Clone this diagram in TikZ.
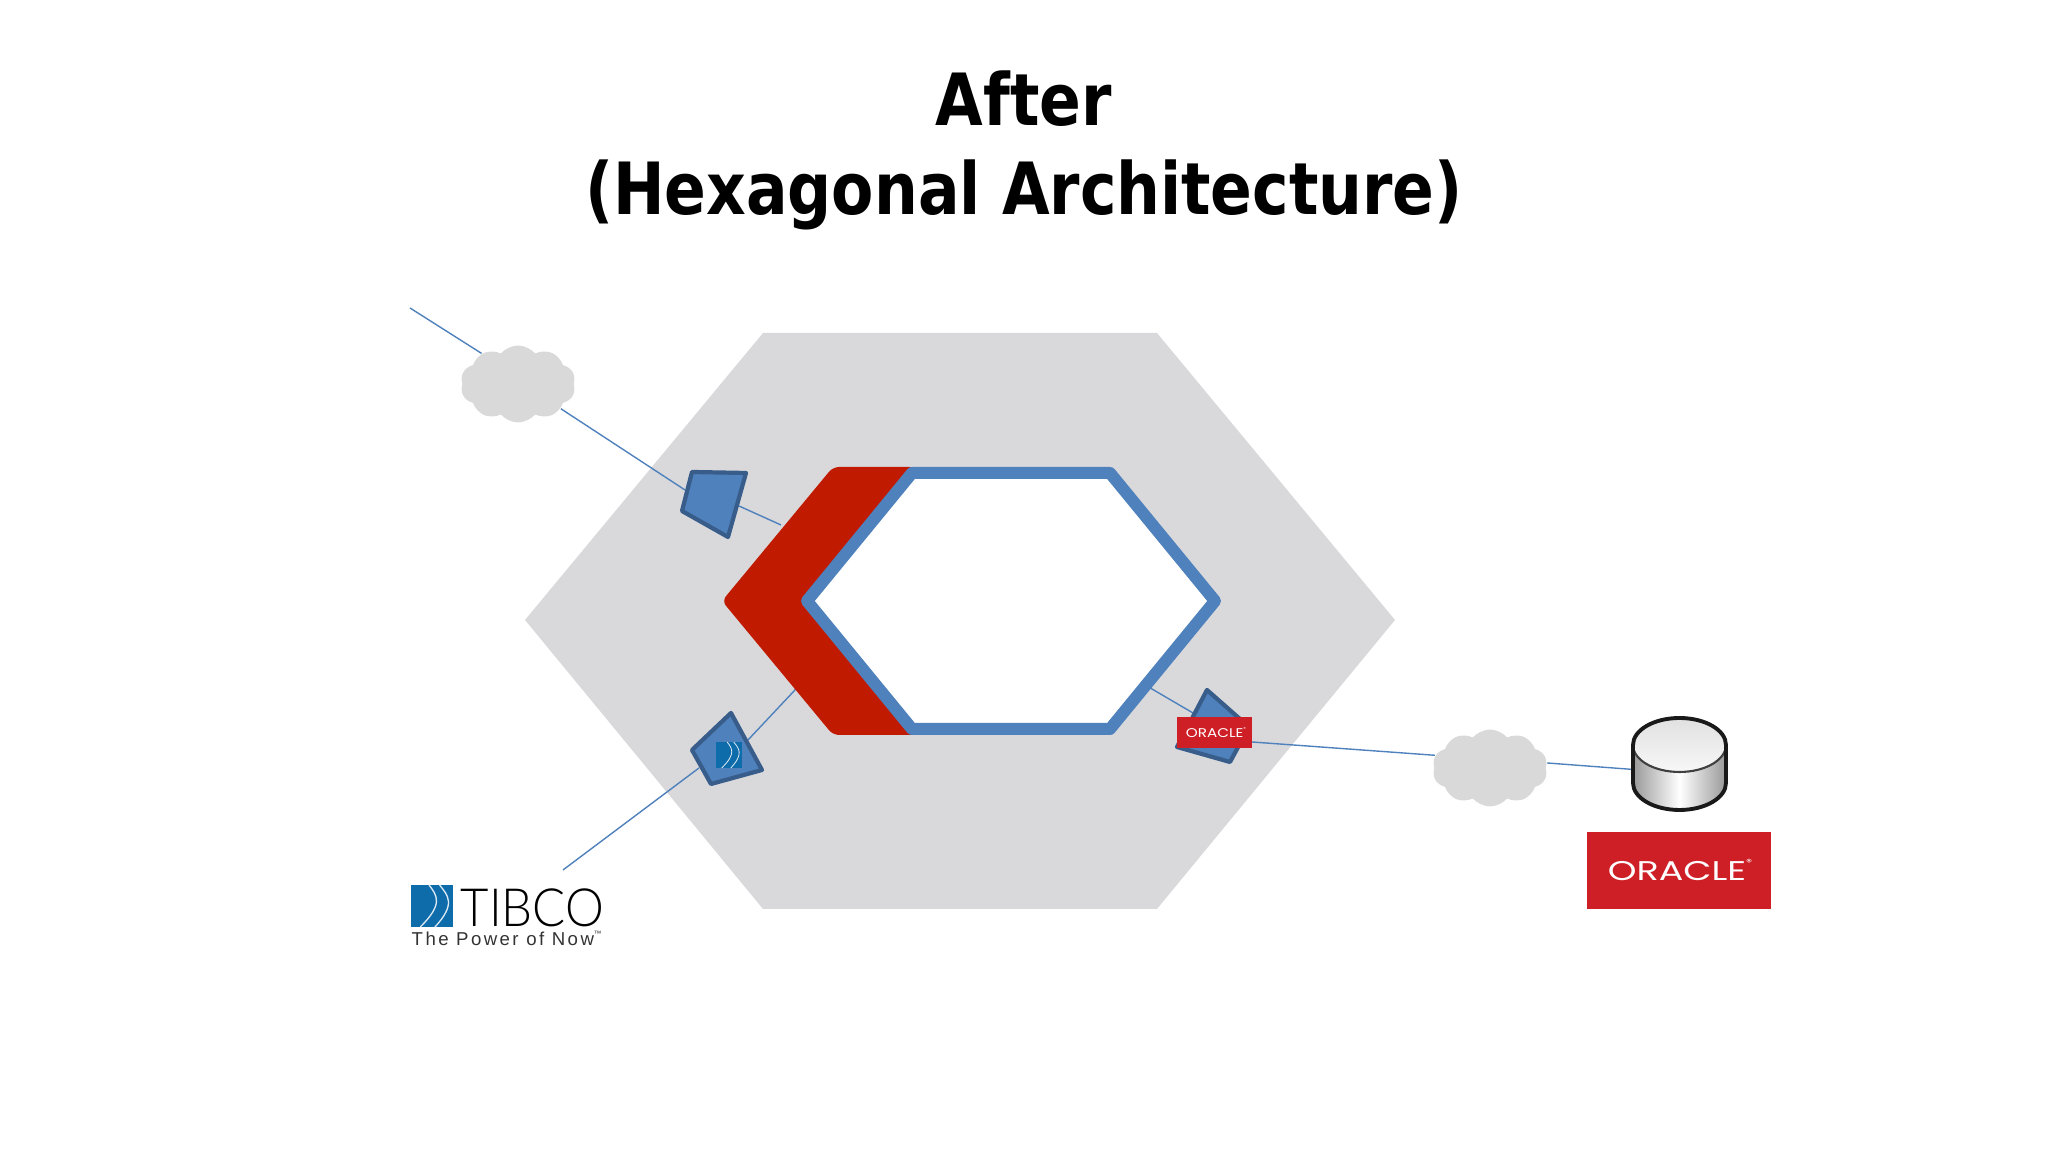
\documentclass[tikz,border=0pt]{standalone}
\usepackage{fontspec}
\usepackage{xcolor}
\usetikzlibrary{shapes.symbols}
\setmainfont{DejaVu Sans Condensed}
\newfontfamily\logofont{Poppins}
\newfontfamily\thinfont{Lato Light}
\newfontfamily\tagfont{Liberation Sans}
\definecolor{hexgray}{HTML}{D9D9DB}
\definecolor{portblue}{HTML}{4F81BD}
\definecolor{portedge}{HTML}{385D8A}
\definecolor{corered}{HTML}{C01B00}
\definecolor{oraclered}{HTML}{CE1F26}
\definecolor{tibcoblue}{HTML}{0F6CAB}
\tikzset{
	wire/.style={draw=portblue, line width=0.4pt},
	puff/.style={shape=cloud, cloud puffs=10, cloud puff arc=100, aspect=1.5, fill=black!15, inner sep=0pt, minimum width=1.15cm, minimum height=0.77cm},
	port/.style={draw=portedge, fill=portblue, line width=1.2pt, line join=round},
	oraclebox/.style={fill=oraclered, inner sep=0pt, text=white},
}
\newcommand{\tibcomark}[3]{
	\fill[tibcoblue] (#1,#2) rectangle ++(#3,#3);
	\draw[white!85!tibcoblue, line width=#3*0.9pt] (#1+0.43*#3,#2+#3) .. controls (#1+0.62*#3,#2+0.75*#3) and (#1+0.78*#3,#2+0.55*#3) .. (#1+0.22*#3,#2);
	\draw[white!85!tibcoblue, line width=#3*0.9pt] (#1+0.68*#3,#2+#3) .. controls (#1+0.88*#3,#2+0.75*#3) and (#1+1.08*#3,#2+0.55*#3) .. (#1+0.57*#3,#2);
}
\newcommand{\regmark}[1]{\raisebox{0.55em}{\fontsize{#1}{#1}\selectfont ®}}
\begin{document}
\begin{tikzpicture}

	\useasboundingbox (0,0) rectangle (20.48,11.52);

	\node[font=\bfseries\fontsize{20.5}{25.3}\selectfont, xscale=0.95, align=center] (title) at (10.24,10.02) {After\\(Hexagonal Architecture)};

	\fill[hexgray] (7.63,8.19) -- (11.57,8.19) -- (13.95,5.32) -- (11.57,2.43) -- (7.63,2.43) -- (5.25,5.32) -- cycle;

	\node[puff] (netin) at (5.18,7.68) {};
	\node[puff] (netout) at (14.90,3.84) {};

	\coordinate (userend) at (4.10,8.44);
	\coordinate (httpin) at (6.85,6.62);
	\coordinate (httpout) at (7.39,6.46);
	\coordinate (corein) at (7.81,6.27);
	\coordinate (tibcoend) at (5.63,2.82);
	\coordinate (tibcoin) at (6.99,3.84);
	\coordinate (tibcoout) at (7.48,4.12);
	\coordinate (corebus) at (8.10,4.78);
	\coordinate (coredb) at (11.40,4.70);
	\coordinate (dbgatein) at (11.93,4.39);
	\coordinate (dbgateout) at (12.52,4.10);
	\coordinate (dbleft) at (16.40,3.82);

	\draw[wire] (userend) -- (netin.140);
	\draw[wire] (netin.-30) -- (httpin);
	\draw[wire] (httpout) -- (corein);
	\draw[wire] (tibcoend) -- (tibcoin);
	\draw[wire] (tibcoout) -- (corebus);
	\draw[wire] (coredb) -- (dbgatein);
	\draw[wire] (dbgateout) -- (netout.167);
	\draw[wire] (netout.5) -- (dbleft);

	\fill[corered, rounded corners=0.06cm] (8.33,6.85) -- (9.16,6.85) -- (8.08,5.51) -- (9.16,4.17) -- (8.33,4.17) -- (7.22,5.51) -- cycle;
	\draw[portblue, fill=white, line width=0.12cm, line join=round] (8.07,5.51) -- (9.12,6.79) -- (11.10,6.79) -- (12.15,5.51) -- (11.10,4.23) -- (9.12,4.23) -- cycle;

	\draw[port] (6.92,6.80) -- (7.46,6.79) -- (7.28,6.15) -- (6.82,6.41) -- cycle;
	\draw[port] (7.31,4.39) -- (7.62,3.82) -- (7.11,3.68) -- (6.92,4.02) -- cycle;
	\draw[port] (12.07,4.62) -- (12.49,4.25) -- (12.30,3.90) -- (11.77,4.05) -- cycle;

	\tibcomark{7.16}{3.84}{0.26}

	\node[oraclebox, minimum width=0.75cm, minimum height=0.31cm] (dbgatelogo) at (12.145,4.195) {};
	\node[text=white, xscale=1.2, font=\logofont\fontsize{3.6}{4}\selectfont] (dbgatetext) at (12.16,4.195) {ORACLE\regmark{1.2}};

	\fill[top color=black!40, bottom color=black!40, middle color=white, shading angle=90] (16.33,4.07) -- (16.33,3.69) arc[start angle=180, end angle=360, x radius=0.465, y radius=0.27] -- (17.26,4.07) -- cycle;
	\draw[line width=0.6pt, black!75, top color=black!12, bottom color=black!3] (16.795,4.07) circle[x radius=0.465, y radius=0.27];
	\draw[line width=1.1pt, black!90, line join=round] (16.33,4.07) -- (16.33,3.69) arc[start angle=180, end angle=360, x radius=0.465, y radius=0.27] -- (17.26,4.07) arc[start angle=0, end angle=180, x radius=0.465, y radius=0.27];

	\node[oraclebox, minimum width=1.84cm, minimum height=0.77cm] (dblogo) at (16.79,2.815) {};
	\node[text=white, xscale=1.35, font=\logofont\fontsize{7.7}{8}\selectfont] (dbtext) at (16.80,2.82) {ORACLE\regmark{2.5}};

	\tibcomark{4.11}{2.25}{0.42}
	\node[font=\thinfont\fontsize{15}{16}\selectfont, xscale=0.93, anchor=base west, inner sep=0pt] (tibcoword) at (4.60,2.25) {TIBCO};
	\node[font=\tagfont\fontsize{5.3}{6}\selectfont, text=black!80, anchor=base west, inner sep=0pt] (tibcotag) at (4.11,2.065) {\addfontfeature{LetterSpace=13}The Power of Now\raisebox{0.5em}{\fontsize{2.2}{3}\selectfont ™}};

\end{tikzpicture}
\end{document}
